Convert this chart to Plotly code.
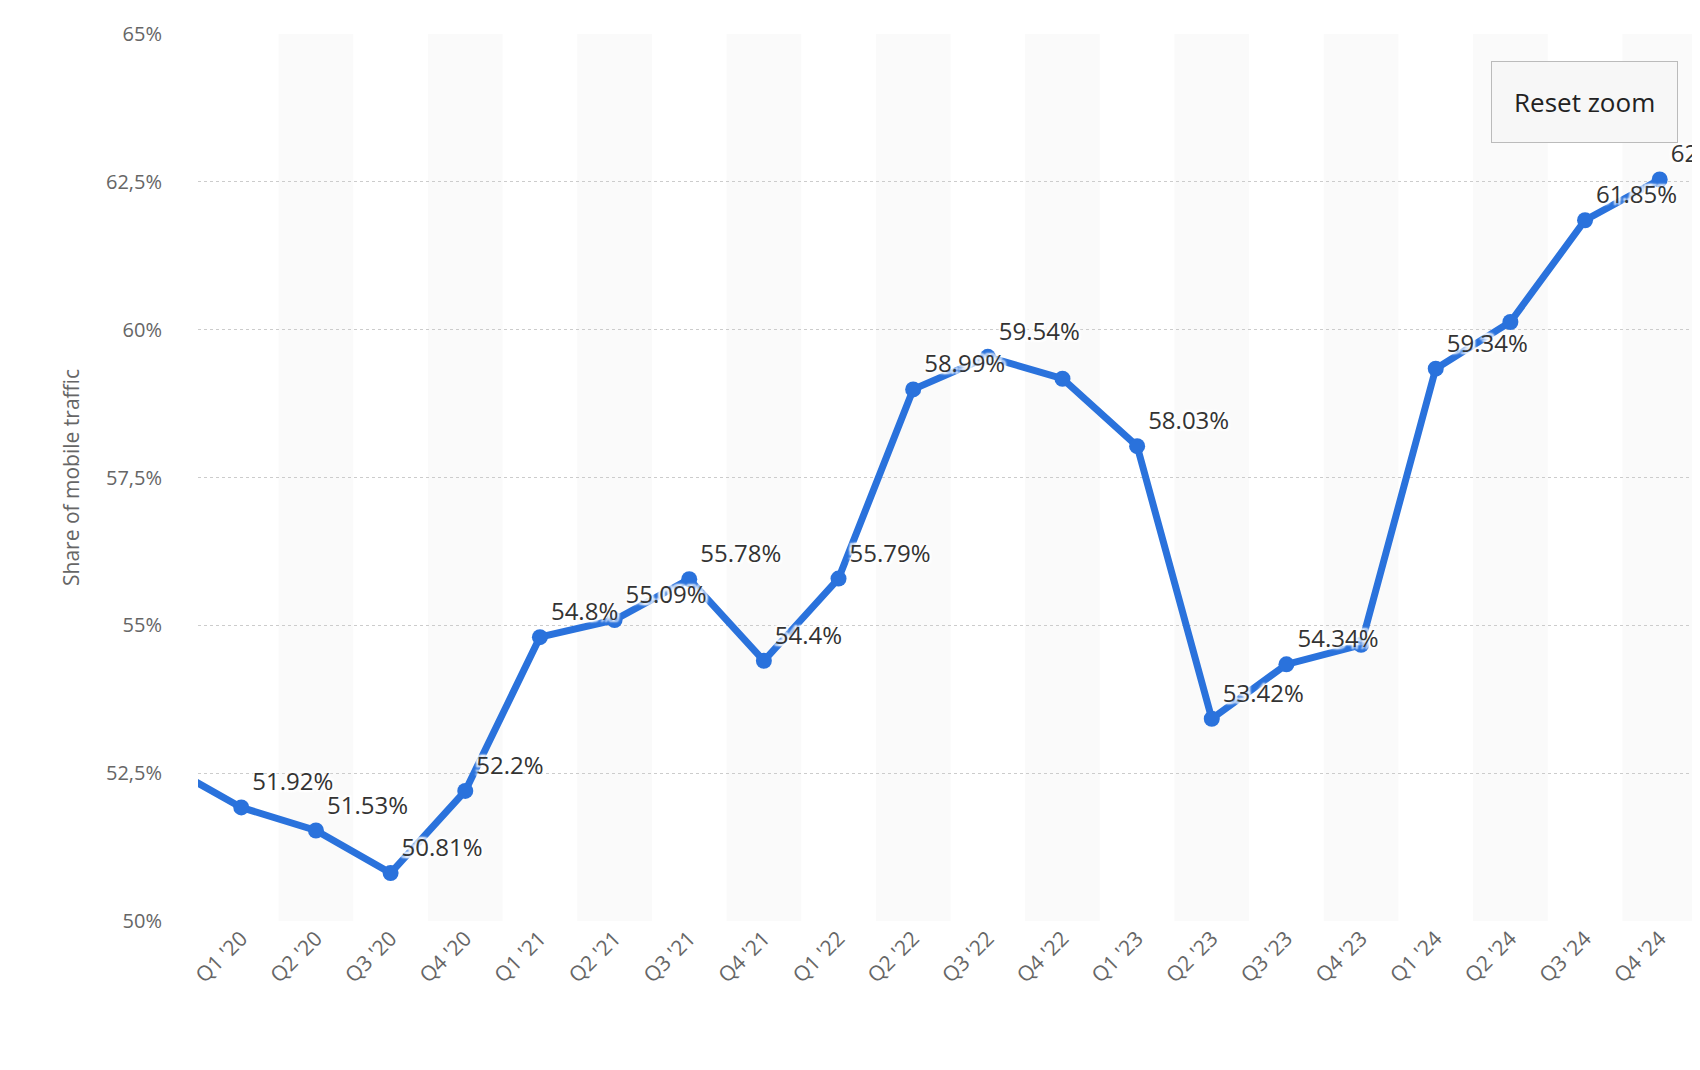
import plotly.graph_objects as go

quarters = ["Q4 '19","Q1 '20","Q2 '20","Q3 '20","Q4 '20","Q1 '21","Q2 '21","Q3 '21","Q4 '21",
            "Q1 '22","Q2 '22","Q3 '22","Q4 '22","Q1 '23","Q2 '23","Q3 '23","Q4 '23",
            "Q1 '24","Q2 '24","Q3 '24","Q4 '24"]
values = [52.63,51.92,51.53,50.81,52.2,54.8,55.09,55.78,54.4,55.79,58.99,59.54,59.17,58.03,
          53.42,54.34,54.67,59.34,60.13,61.85,62.54]
show_label = [False,True,True,True,True,True,True,True,True,True,True,True,False,True,
              True,True,False,True,False,True,True]
ytick_vals = [50,52.5,55,57.5,60,62.5,65]
ytick_text = ["50%","52,5%","55%","57,5%","60%","62,5%","65%"]

xs = list(range(len(quarters)))
labels = [f"{v}%" if s else "" for v, s in zip(values, show_label)]

fig = go.Figure()
for i in range(2, len(quarters), 2):
    fig.add_vrect(x0=i-0.5, x1=i+0.5, fillcolor="#fafafa", line_width=0, layer="below")

fig.add_trace(go.Scatter(
    x=xs, y=values, mode="lines+markers+text", text=labels, textposition="top right",
    textfont=dict(family="Open Sans", size=24, color="#333333",
                  shadow="2px 2px 2px white, -2px -2px 2px white, 2px -2px 2px white, -2px 2px 2px white"),
    line=dict(color="#2a72dc", width=7), marker=dict(size=16, color="#2a72dc"),
    cliponaxis=False, hoverinfo="skip"))

fig.add_annotation(x=1.0, y=1.0, xref="paper", yref="paper", xanchor="right", yanchor="top",
                   xshift=-25, yshift=-27,
                   text="Reset zoom", showarrow=False, font=dict(family="Open Sans", size=26, color="#222"),
                   bgcolor="#f7f7f7", bordercolor="#bbbbbb", borderwidth=1, borderpad=22)

fig.update_layout(
    width=1700, height=1070, paper_bgcolor="white", plot_bgcolor="white",
    margin=dict(l=190, r=5, t=26, b=157), showlegend=False,
    font=dict(family="Open Sans", color="#666666"),
    xaxis=dict(range=[0.42, 20.58], tickvals=xs[1:], ticktext=quarters[1:], tickangle=-45,
               tickfont=dict(size=21, color="#666666"), showgrid=False, zeroline=False, showline=False),
    yaxis=dict(range=[50, 65], tickvals=ytick_vals, ticktext=ytick_text,
               tickfont=dict(size=20, color="#666666"), gridcolor="#cccccc", griddash="dot",
               zeroline=False, ticklabelstandoff=35,
               title=dict(text="Share of mobile traffic", font=dict(size=21, color="#666666"), standoff=20)),
)
fig.write_html("out.html")
